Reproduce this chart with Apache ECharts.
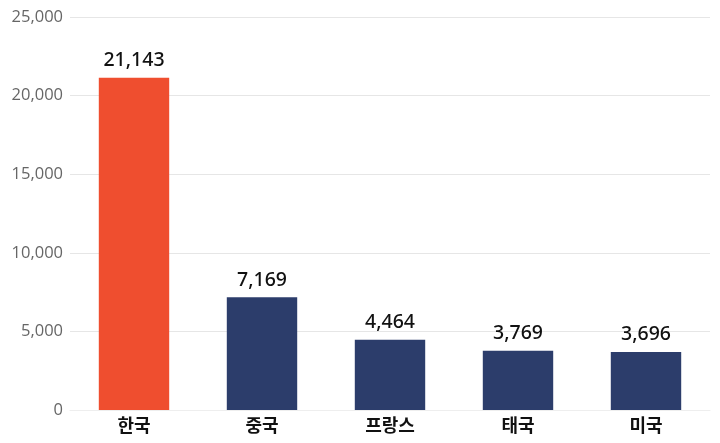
<!DOCTYPE html>
<html>
<head>
<meta charset="utf-8">
<script src="https://cdn.jsdelivr.net/npm/echarts@6/dist/echarts.min.js"></script>
<style>
  html, body { margin: 0; padding: 0; background: #fff; }
  #chart { width: 720px; height: 443px; }
</style>
</head>
<body>
<div id="chart"></div>
<script>
// categories and values
const countries = ['한국', '중국', '프랑스', '태국', '미국']
const visitors = [21143, 7169, 4464, 3769, 3696]
const yTicks = [0, 5000, 10000, 15000, 20000, 25000]

const highlight = '#EF4E2F'
const base = '#2C3D6B'

const chart = echarts.init(document.getElementById('chart'))

chart.setOption({
  animation: false,
  grid: { left: 70, right: 10, top: 17, bottom: 33 },
  xAxis: {
    type: 'category',
    data: countries,
    axisLine: { show: true, lineStyle: { color: '#eeeeee' } },
    axisTick: { show: false },
    axisLabel: {
      color: '#111',
      fontSize: 18,
      fontWeight: 'bold',
      fontFamily: '"Noto Sans CJK KR", "Noto Sans", sans-serif',
      margin: 6
    }
  },
  yAxis: {
    type: 'value',
    min: yTicks[0],
    max: yTicks[yTicks.length - 1],
    interval: 5000,
    axisLine: { show: false },
    axisTick: { show: false },
    splitLine: { lineStyle: { color: '#e6e6e6' } },
    axisLabel: {
      color: '#666',
      fontSize: 16.5,
      fontFamily: '"Open Sans", sans-serif',
      margin: 7,
      formatter: (v) => v.toLocaleString('en-US')
    }
  },
  series: [{
    type: 'bar',
    barWidth: '55%',
    data: visitors.map((v, i) => ({
      value: v,
      itemStyle: { color: i === 0 ? highlight : base }
    })),
    label: {
      show: true,
      position: 'top',
      distance: 7,
      color: '#111',
      fontSize: 19.5,
      fontWeight: 500,
      fontFamily: '"Noto Sans", "Open Sans", sans-serif',
      formatter: (p) => p.value.toLocaleString('en-US')
    }
  }]
})
</script>
</body>
</html>
